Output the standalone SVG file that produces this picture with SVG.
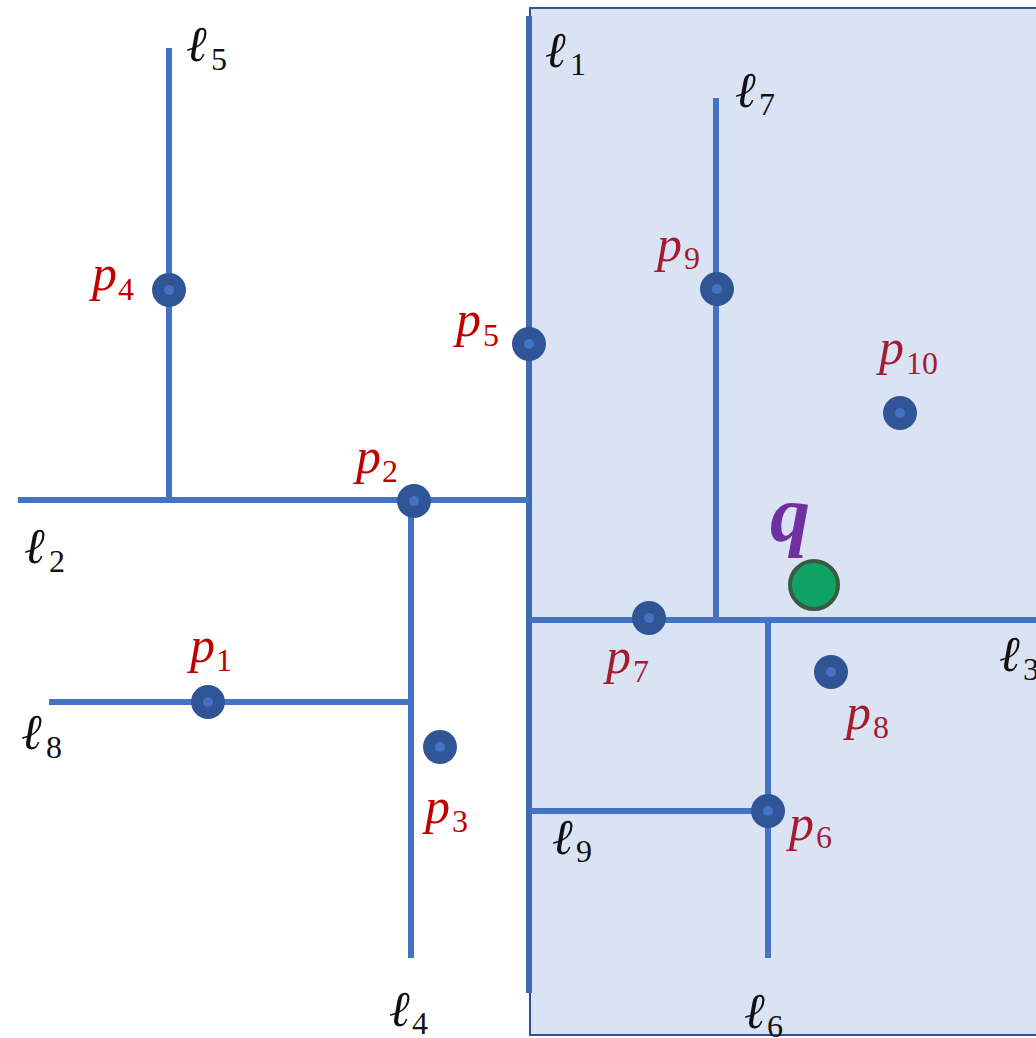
<svg xmlns="http://www.w3.org/2000/svg" width="1036" height="1038" viewBox="0 0 1036 1038">
<style>
.ln{stroke:#4472c4;stroke-width:6;fill:none}
.pt{fill:#2f5597}
.pc{fill:#4472c4}
.lab{font-family:"Liberation Serif","DejaVu Serif",serif;font-style:italic;font-size:50px}
.sub{font-family:"Liberation Serif","DejaVu Serif",serif;font-style:normal;font-size:32px}
.ell{fill:#111}
.po{fill:#c00000}
.pi{fill:#a61b30}
</style>
<rect id="region" x="530" y="8" width="520" height="1027" fill="#dae3f3" stroke="#2f5597" stroke-width="2"/>
<g id="connectors">
<line class="ln" x1="529" y1="16" x2="529" y2="993" style="stroke:#3f69b5"/>
<line class="ln" x1="18" y1="500" x2="529" y2="500"/>
<line class="ln" x1="169" y1="48" x2="169" y2="500"/>
<line class="ln" x1="411" y1="500" x2="411" y2="958"/>
<line class="ln" x1="49" y1="702" x2="411" y2="702"/>
<line class="ln" x1="530" y1="620" x2="1036" y2="620"/>
<line class="ln" x1="716" y1="98" x2="716" y2="620"/>
<line class="ln" x1="768" y1="620" x2="768" y2="958"/>
<line class="ln" x1="530" y1="811" x2="768" y2="811"/>
</g>
<g id="line-labels" class="lab ell">
<text x="186" y="61">ℓ<tspan class="sub" x="211" y="70">5</tspan></text>
<text x="545" y="67">ℓ<tspan class="sub" x="570" y="75">1</tspan></text>
<text x="735" y="107">ℓ<tspan class="sub" x="759" y="115">7</tspan></text>
<text x="24" y="563">ℓ<tspan class="sub" x="49" y="572">2</tspan></text>
<text x="999" y="671">ℓ<tspan class="sub" x="1023" y="680">3</tspan></text>
<text x="21" y="749">ℓ<tspan class="sub" x="46" y="758">8</tspan></text>
<text x="552" y="854">ℓ<tspan class="sub" x="576" y="862">9</tspan></text>
<text x="389" y="1026">ℓ<tspan class="sub" x="412" y="1034">4</tspan></text>
<text x="744" y="1028">ℓ<tspan class="sub" x="767" y="1037">6</tspan></text>
</g>
<g id="p4"><circle class="pt" cx="169" cy="290" r="17"/><circle class="pc" cx="169" cy="290" r="5"/><text class="lab po" x="92" y="290">p<tspan class="sub" x="118" y="300">4</tspan></text></g>
<g id="p5"><circle class="pt" cx="529" cy="344" r="17"/><circle class="pc" cx="529" cy="344" r="5"/><text class="lab po" x="456" y="336">p<tspan class="sub" x="483" y="346">5</tspan></text></g>
<g id="p2"><circle class="pt" cx="414" cy="501" r="17"/><circle class="pc" cx="414" cy="501" r="5"/><text class="lab po" x="356" y="473">p<tspan class="sub" x="382" y="482">2</tspan></text></g>
<g id="p9"><circle class="pt" cx="717" cy="289" r="17"/><circle class="pc" cx="717" cy="289" r="5"/><text class="lab pi" x="657" y="261">p<tspan class="sub" x="684" y="269">9</tspan></text></g>
<g id="p10"><circle class="pt" cx="900" cy="413" r="17"/><circle class="pc" cx="900" cy="413" r="5"/><text class="lab pi" x="879" y="364">p<tspan class="sub" x="906" y="374">10</tspan></text></g>
<g id="p7"><circle class="pt" cx="649" cy="618" r="17"/><circle class="pc" cx="649" cy="618" r="5"/><text class="lab pi" x="606" y="673">p<tspan class="sub" x="633" y="682">7</tspan></text></g>
<g id="p8"><circle class="pt" cx="831" cy="672" r="17"/><circle class="pc" cx="831" cy="672" r="5"/><text class="lab pi" x="846" y="729">p<tspan class="sub" x="873" y="738">8</tspan></text></g>
<g id="p1"><circle class="pt" cx="208" cy="702" r="17"/><circle class="pc" cx="208" cy="702" r="5"/><text class="lab po" x="190" y="662">p<tspan class="sub" x="216" y="671">1</tspan></text></g>
<g id="p3"><circle class="pt" cx="440" cy="747" r="17"/><circle class="pc" cx="440" cy="747" r="5"/><text class="lab po" x="425" y="823">p<tspan class="sub" x="452" y="832">3</tspan></text></g>
<g id="p6"><circle class="pt" cx="768" cy="811" r="17"/><circle class="pc" cx="768" cy="811" r="5"/><text class="lab pi" x="789" y="840">p<tspan class="sub" x="816" y="848">6</tspan></text></g>
<g id="q"><circle cx="814" cy="585" r="24" fill="#0fa464" stroke="#3b5a44" stroke-width="4"/><text x="770" y="541" font-family="Liberation Serif, DejaVu Serif, serif" font-style="italic" font-weight="bold" font-size="80" fill="#7030a0">q</text></g>
</svg>
